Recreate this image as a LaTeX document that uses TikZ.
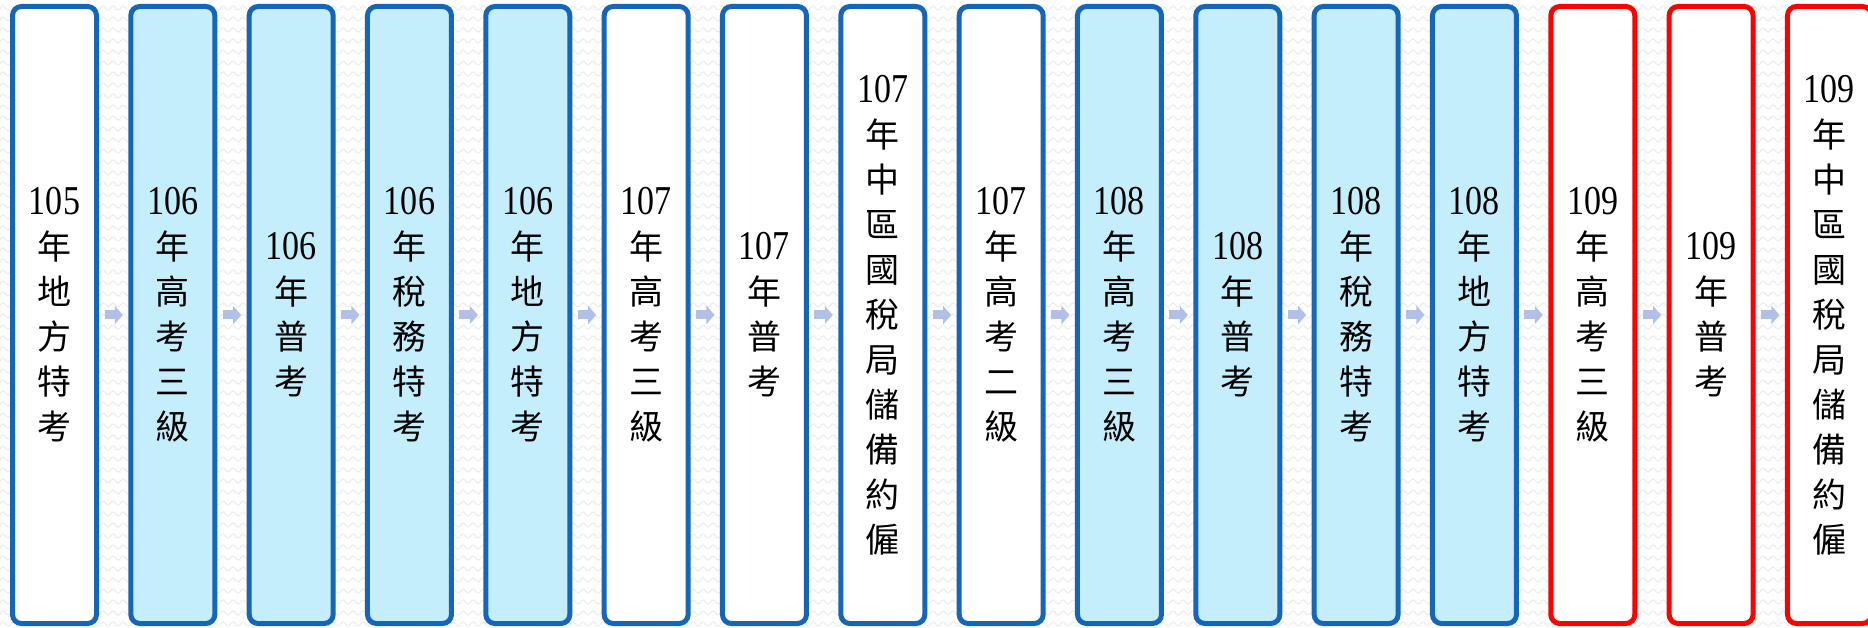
\documentclass[tikz,border=0pt]{standalone}
\usepackage{fontspec}
\newfontfamily\cjkfont{Noto Sans CJK TC}
\newfontfamily\numfamily[FakeStretch=0.83]{Liberation Serif}
\newcommand\yearfont{\numfamily\fontsize{41pt}{45pt}\selectfont}
\usetikzlibrary{arrows.meta,decorations.pathmorphing}
\definecolor{boxblue}{RGB}{21,101,184}
\definecolor{boxred}{RGB}{255,0,0}
\definecolor{paleblue}{RGB}{197,238,253}
\definecolor{arrowblue}{RGB}{176,192,230}
\definecolor{wavegray}{RGB}{236,236,236}

\begin{document}
\begin{tikzpicture}[
			x = 1pt, y = 1pt,
			exam/.style = {draw, line width = 5pt, rounded corners = 9pt, minimum width = 84pt, minimum height = 617pt, inner sep = 0pt, align = center, font = \cjkfont\fontsize{34pt}{45pt}\selectfont},
			flow/.style = {arrowblue, line width = 9pt, line cap = butt, -{Triangle[length = 8pt, width = 18pt]}, shorten < = 5.5pt, shorten > = 5.5pt},
			wave/.style = {wavegray, line width = 1pt, decorate, decoration = {snake, segment length = 10pt, amplitude = 2pt}}
			]

			\useasboundingbox (0,0) rectangle (1868,627);
			\clip (0,0) rectangle (1868,627);
			\fill[white] (0,0) rectangle (1868,627);

			\foreach \row in {3,14,...,630}{
				\draw[wave] (-10,\row) -- (1880,\row);
			}

			\def\pitch{118.33}
			\def\midy{312}

			\foreach \i/\bg/\edge/\yr/\chars in {
				1/white/boxblue/105/年\\地\\方\\特\\考,
				2/paleblue/boxblue/106/年\\高\\考\\三\\級,
				3/paleblue/boxblue/106/年\\普\\考,
				4/paleblue/boxblue/106/年\\稅\\務\\特\\考,
				5/paleblue/boxblue/106/年\\地\\方\\特\\考,
				6/white/boxblue/107/年\\高\\考\\三\\級,
				7/white/boxblue/107/年\\普\\考,
				8/white/boxblue/107/年\\中\\區\\國\\稅\\局\\儲\\備\\約\\僱,
				9/white/boxblue/107/年\\高\\考\\二\\級,
				10/paleblue/boxblue/108/年\\高\\考\\三\\級,
				11/paleblue/boxblue/108/年\\普\\考,
				12/paleblue/boxblue/108/年\\稅\\務\\特\\考,
				13/paleblue/boxblue/108/年\\地\\方\\特\\考,
				14/white/boxred/109/年\\高\\考\\三\\級,
				15/white/boxred/109/年\\普\\考,
				16/white/boxred/109/年\\中\\區\\國\\稅\\局\\儲\\備\\約\\僱}{
				\node[exam, fill = \bg, draw = \edge] (b\i) at ({54.5+(\i-1)*\pitch},\midy) {{\yearfont\yr}\\\chars};
			}

			\foreach \i [remember = \i as \prev (initially 1)] in {2,...,16}{
				\draw[flow] (b\prev.east) -- (b\i.west);
			}

\end{tikzpicture}
\end{document}
